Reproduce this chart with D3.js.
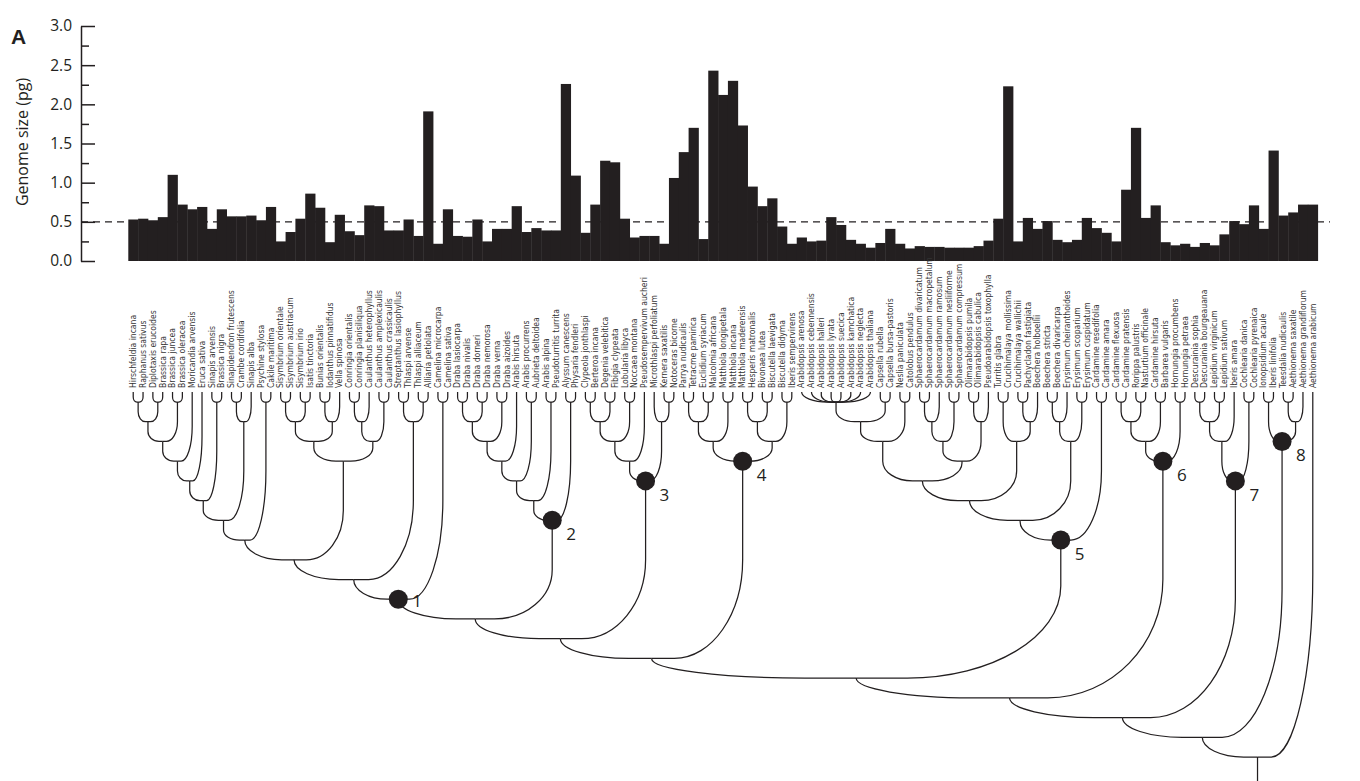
<!DOCTYPE html>
<html>
<head>
<meta charset="utf-8">
<script src="https://cdn.jsdelivr.net/npm/d3@7"></script>
<style>
  html, body { margin: 0; padding: 0; background: #fff; }
  svg { display: block; }
</style>
</head>
<body>
<svg id="chart" width="1360" height="781"></svg>
<script>
// ---- data -------------------------------------------------------------
const species = [
  "Hirschfeldia incana", "Raphanus sativus", "Diplotaxis erucoides", "Brassica rapa",
  "Brassica juncea", "Brassica oleracea", "Moricandia arvensis", "Eruca sativa",
  "Sinapis arvensis", "Brassica nigra", "Sinapidendron frutescens", "Crambe cordifolia",
  "Sinapis alba", "Psychine stylosa", "Cakile maritima", "Sisymbrium orientale",
  "Sisymbrium austriacum", "Sisymbrium irio", "Isatis tinctoria", "Bunias orientalis",
  "Iodanthus pinnatifidus", "Vella spinosa", "Conringia orientalis", "Conringia planisiliqua",
  "Caulanthus heterophyllus", "Caulanthus amplexicaulis", "Caulanthus crassicaulis",
  "Streptanthus lasiophyllus", "Thlaspi arvense", "Thlaspi alliaceum", "Alliaria petiolata",
  "Camelina microcarpa", "Camelina sativa", "Draba lasiocarpa", "Draba nivalis",
  "Draba dorneri", "Draba nemorosa", "Draba verna", "Draba aizoides", "Arabis hirsuta",
  "Arabis procurrens", "Aubrieta deltoidea", "Arabis alpina", "Pseudoturritis turrita",
  "Alyssum canescens", "Physaria fendleri", "Clypeola jonthlaspi", "Berteroa incana",
  "Degenia velebitica", "Fibigia clypeata", "Lobularia libyca", "Noccaea montana",
  "Pseudosempervivum aucheri", "Microthlaspi perfoliatum", "Kernera saxatilis",
  "Notoceras bicorne", "Parrya nudicaulis", "Tetracme pamirica", "Euclidium syriacum",
  "Malcolmia africana", "Matthiola longipetala", "Matthiola incana", "Matthiola maderensis",
  "Hesperis matronalis", "Bivonaea lutea", "Biscutella laevigata", "Biscutella didyma",
  "Iberis sempervirens", "Arabidopsis arenosa", "Arabidopsis cebennensis",
  "Arabidopsis halleri", "Arabidopsis lyrata", "Arabidopsis suecica", "Arabidopsis kamchatica",
  "Arabidopsis neglecta", "Arabidopsis thaliana", "Capsella rubella", "Capsella bursa-pastoris",
  "Neslia paniculata", "Catolobus pendulus", "Sphaerocardamum divaricatum",
  "Sphaerocardamum macropetalum", "Sphaerocardamum ramosum", "Sphaerocardamum nesliiforme",
  "Sphaerocardamum compressum", "Olimarabidopsis pumila", "Olimarabidopsis cabulica",
  "Pseudoarabidopsis toxophylla", "Turritis glabra", "Crucihimalaya mollissima",
  "Crucihimalaya wallichii", "Pachycladon fastigiata", "Boechera holboellii",
  "Boechera stricta", "Boechera divaricarpa", "Erysimum cheiranthoides", "Erysimum scoparium",
  "Erysimum cuspidatum", "Cardamine resedifolia", "Cardamine amara", "Cardamine flexuosa",
  "Cardamine pratensis", "Rorippa palustris", "Nasturtium officinale", "Cardamine hirsuta",
  "Barbarea vulgaris", "Hornungia procumbens", "Hornungia petraea", "Descurainia sophia",
  "Descurainia bourgeauana", "Lepidium virginicum", "Lepidium sativum", "Iberis amara",
  "Cochlearia danica", "Cochlearia pyrenaica", "Ionopsidium acaule", "Iberis linifolia",
  "Teesdalia nudicaulis", "Aethionema saxatile", "Aethionema grandiflorum", "Aethionema arabicum"
];

// genome size (pg), same order as species
const genomeSize = [
  0.53, 0.54, 0.52, 0.56, 1.10, 0.72, 0.66, 0.69, 0.41, 0.66,
  0.57, 0.57, 0.58, 0.52, 0.69, 0.25, 0.37, 0.54, 0.86, 0.68,
  0.24, 0.59, 0.38, 0.33, 0.71, 0.70, 0.39, 0.39, 0.53, 0.32,
  1.91, 0.22, 0.66, 0.32, 0.31, 0.53, 0.25, 0.41, 0.41, 0.70,
  0.37, 0.42, 0.39, 0.39, 2.26, 1.09, 0.36, 0.72, 1.28, 1.26,
  0.54, 0.30, 0.32, 0.32, 0.22, 1.06, 1.39, 1.70, 0.28, 2.43,
  2.12, 2.30, 1.73, 0.95, 0.70, 0.80, 0.44, 0.22, 0.30, 0.25,
  0.26, 0.56, 0.46, 0.27, 0.22, 0.17, 0.23, 0.41, 0.22, 0.16,
  0.19, 0.18, 0.18, 0.17, 0.17, 0.17, 0.19, 0.26, 0.54, 2.23,
  0.25, 0.55, 0.41, 0.51, 0.27, 0.24, 0.27, 0.55, 0.42, 0.36,
  0.25, 0.91, 1.70, 0.55, 0.71, 0.24, 0.20, 0.22, 0.18, 0.23,
  0.20, 0.34, 0.51, 0.47, 0.71, 0.41, 1.41, 0.58, 0.62, 0.72,
  0.72
];

const majorTicks = [0, 0.5, 1.0, 1.5, 2.0, 2.5, 3.0];
const minorTicks = [0.25, 0.75, 1.25, 1.75, 2.25, 2.75];
const refLine = 0.5;

// topology: leaves are 1-based species numbers, the number after ')' is node depth rank
const clL = "((((((((1,2)1,(3,4)1)2,(5,6)1)3,7)4,8)5,(9,10)1)6,((11,12)1,13)2)7,(14,15)1)8";
const clB = "((((16,17)1,(18,19)1)2,((20,21)1,22)2)3,(((23,24)1,25)2,(26,27)1)3)4";
const cl1 = "(((" + clL + "," + clB + ")9,((28,29)1,(30,31)1)2)10,(32,33)1)11";
const cl2 = "(((((((34,35)1,(36,37)1)2,(38,39)1)3,40)4,(41,42)1)5,(43,44)1)6,(45,46)1)7";
const cl3 = "((((47,48)1,(49,50)1)2,(51,52)1)3,53)4";
const cl3b = "(" + cl3 + ",(54,(55,56)1)2)5";
const cl4 = "((((57,58)1,(59,60)1)2,(61,62)1)3,(((63,64)1,(65,66)1)2,(67,68)1)3)4";
const cl5 = "(((((((69,70,71,72,73,74,75,76)1,(77,78)1)2,(79,80)1)3," +
  "((((81,82)1,83)2,(84,85)1)3,((86,87)1,88)2)4)5,((89,90)1,((91,92)1,93)2)3)6," +
  "(((94,95)1,96)2,(97,98)1)3)7,(99,100)1)8";
const cl6 = "((((101,102)1,(103,104)1)2,(105,106)1)3,(107,108)1)4";
const cl7 = "((((109,110)1,(111,112)1)2,113)3,(114,115)1)5";
const cl8 = "((116,117)1,((118,119)1,120)2)3";
const treeNewick = "((((((((" + cl1 + "," + cl2 + ")12," + cl3b + ")13," + cl4 + ")14," +
  cl5 + ")15," + cl6 + ")16," + cl7 + ")17," + cl8 + ")18,121)19";

// numbered clades: first and last species of each
const markedClades = [[1, 33], [34, 46], [47, 56], [57, 68], [69, 100], [101, 108], [109, 115], [116, 120]];

// ---- layout ----------------------------------------------------------
const ink = "#231f20";
const svg = d3.select("#chart");

const x = d3.scaleBand().domain(d3.range(species.length)).range([128.3, 1317.7]).padding(0);
const y = d3.scaleLinear().domain([0, 3]).range([261, 26]);
const depth = d3.scaleLinear().domain([1, 19]).range([402, 757]);
const tipY = 392;

// panel letter
svg.append("text").attr("x", 11).attr("y", 44)
  .attr("font-family", "Liberation Sans, Arial, sans-serif").attr("font-weight", "bold")
  .attr("font-size", 21).attr("fill", ink).text("A");

// reference line behind bars
svg.append("line")
  .attr("x1", 81).attr("x2", 1330).attr("y1", y(refLine)).attr("y2", y(refLine))
  .attr("stroke", ink).attr("stroke-width", 1.3).attr("stroke-dasharray", "7 5");

// bars
svg.append("g").selectAll("rect").data(genomeSize).join("rect")
  .attr("x", (d, i) => x(i))
  .attr("width", x.bandwidth() + 0.4)
  .attr("y", d => y(d))
  .attr("height", d => y(0) - y(d))
  .attr("fill", ink);

// y axis
const axisG = svg.append("g").attr("transform", "translate(81,0)");
axisG.call(d3.axisLeft(y).tickValues(majorTicks).tickSize(-14).tickSizeOuter(0)
  .tickPadding(9).tickFormat(d3.format(".1f")));
axisG.append("g").call(d3.axisLeft(y).tickValues(minorTicks).tickSize(-8)
  .tickSizeOuter(0).tickFormat(""))
  .select(".domain").remove();
axisG.selectAll("path, line").attr("stroke", ink).attr("stroke-width", 1.5);
axisG.selectAll("text").attr("font-family", "Open Sans, sans-serif")
  .attr("font-size", 15.5).attr("fill", ink);

svg.append("text")
  .attr("transform", "translate(28,142) rotate(-90)")
  .attr("text-anchor", "middle")
  .attr("font-family", "Open Sans, sans-serif").attr("font-size", 16).attr("fill", ink)
  .text("Genome size (pg)");

// species labels, reading upwards from just above the tree tips
svg.append("g").selectAll("text").data(species).join("text")
  .attr("transform", (d, i) => `translate(${x(i) + x.bandwidth() / 2 + 2.8},388) rotate(-90)`)
  .attr("text-anchor", "start")
  .attr("font-family", "Liberation Sans Narrow, DejaVu Sans Condensed, Arial Narrow, sans-serif")
  .attr("font-size", 8.5)
  .attr("fill", "#333")
  .text(d => d);

// ---- tree --------------------------------------------------------------
function parseTree(str) {
  let i = 0;
  const num = () => { let s = ""; while (i < str.length && /[0-9.]/.test(str[i])) s += str[i++]; return +s; };
  const node = () => {
    if (str[i] === "(") {
      i++;
      const kids = [node()];
      while (str[i] === ",") { i++; kids.push(node()); }
      i++;
      return { children: kids, level: num() };
    }
    return { leaf: num() };
  };
  return node();
}

const root = d3.hierarchy(parseTree(treeNewick));
root.eachAfter(n => {
  if (n.children) {
    n.x = d3.mean(n.children, c => c.x);
    n.y = depth(n.data.level);
    n.first = d3.min(n.children, c => c.first);
    n.last = d3.max(n.children, c => c.last);
  } else {
    n.x = x(n.data.leaf - 1) + x.bandwidth() / 2;
    n.y = tipY;
    n.first = n.last = n.data.leaf;
  }
});

function edgePath(c, p) {
  const dx = Math.abs(p.x - c.x), s = p.x >= c.x ? 1 : -1;
  const rx = dx * 0.75;
  const ry = Math.min(p.y - c.y, Math.max((p.y - c.y) * 0.5, rx * 0.6));
  const k = 0.552;
  return `M${c.x},${c.y}V${p.y - ry}` +
    `C${c.x},${p.y - ry + k * ry} ${c.x + s * rx * (1 - k)},${p.y} ${c.x + s * rx},${p.y}H${p.x}`;
}

const treeG = svg.append("g").attr("fill", "none").attr("stroke", ink).attr("stroke-width", 1.25);
treeG.selectAll("path").data(root.links()).join("path")
  .attr("d", l => edgePath(l.target, l.source));
treeG.append("line")
  .attr("x1", root.x).attr("x2", root.x).attr("y1", root.y).attr("y2", 790);

// numbered nodes
const marked = markedClades.map(([a, b], i) => ({
  n: i + 1,
  node: root.descendants().find(d => d.first === a && d.last === b)
})).filter(m => m.node);

const markG = svg.append("g");
markG.selectAll("circle").data(marked).join("circle")
  .attr("cx", m => m.node.x).attr("cy", m => m.node.y).attr("r", 9.5).attr("fill", ink);
markG.selectAll("text").data(marked).join("text")
  .attr("x", m => m.node.x + 14)
  .attr("y", m => {
    const p = m.node.parent;
    return (p && p.x > m.node.x) ? m.node.y + 8 : m.node.y + 20;
  })
  .attr("font-family", "Open Sans, sans-serif").attr("font-size", 17).attr("fill", ink)
  .text(m => m.n);
</script>
</body>
</html>
